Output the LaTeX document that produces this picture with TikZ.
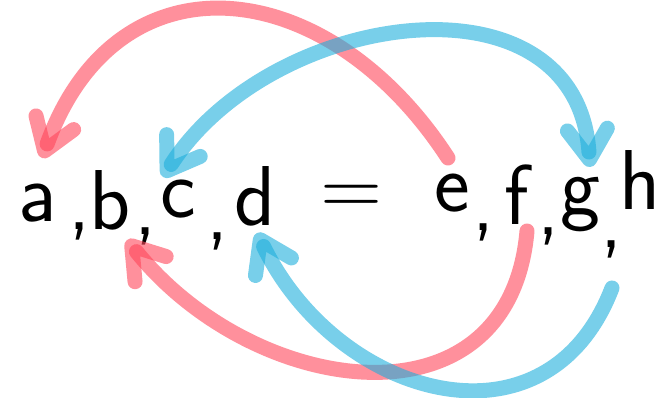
\documentclass[tikz,border=0pt]{standalone}
\usetikzlibrary{arrows.meta}
\definecolor{inkred}{RGB}{255,70,90}
\definecolor{inkblue}{RGB}{30,175,220}
\tikzset{
  letter/.style={font=\sffamily\fontsize{85}{85}\selectfont, inner sep=0pt, anchor=base, text=black},
  stroke/.style={line width=15pt, line cap=round, line join=round, draw opacity=0.6},
  redstroke/.style={stroke, draw=inkred, -{Straight Barb[length=30pt,width=40pt,round]}},
  bluestroke/.style={stroke, draw=inkblue, -{Straight Barb[length=30pt,width=40pt,round]}},
  bluestroke2/.style={stroke, draw=inkblue, {Straight Barb[length=30pt,width=40pt,round]}-{Straight Barb[length=30pt,width=40pt,round]}},
}
\begin{document}
\begin{tikzpicture}[x=1pt,y=1pt]
\useasboundingbox (0,0) rectangle (660,398);
\fill[white] (0,0) rectangle (660,398);
% letters
\node[letter] (a) at (38,176) {a};
\node[letter] (cm1) at (80,168) {,};
\node[letter] (b) at (110,168) {b};
\node[letter] (cm2) at (146,163) {,};
\node[letter] (c) at (178,180) {c};
\node[letter] (cm3) at (218,158) {,};
\node[letter] (d) at (255,172) {d};
\node[letter, anchor=center] (eq) at (352,198) {=};
\node[letter] (e) at (452,186) {e};
\node[letter] (cm4) at (484,167) {,};
\node[letter] (f) at (517,173) {f};
\node[letter] (cm5) at (549,163) {,};
\node[letter] (g) at (580,183) {g};
\node[letter] (cm6) at (612,150) {,};
\node[letter] (h) at (640,188) {h};
% connector ends
\coordinate (eTop) at (448,240);
\coordinate (aTop) at (42,240);
\coordinate (cTop) at (163,221);
\coordinate (gTop) at (590,231);
\coordinate (fBot) at (527,167);
\coordinate (bBot) at (127,158);
\coordinate (hBot) at (612,110);
\coordinate (dBot) at (257,165);
% arrows
\draw[redstroke] (eTop) to[out=123,in=70,looseness=1.4] (aTop);
\draw[bluestroke2] (cTop) to[out=57,in=94,looseness=1.2] (gTop);
\draw[redstroke] (fBot) to[out=265,in=309,looseness=1.3] (bBot);
\draw[bluestroke] (hBot) to[out=249,in=296,looseness=1.3] (dBot);
\end{tikzpicture}
\end{document}
